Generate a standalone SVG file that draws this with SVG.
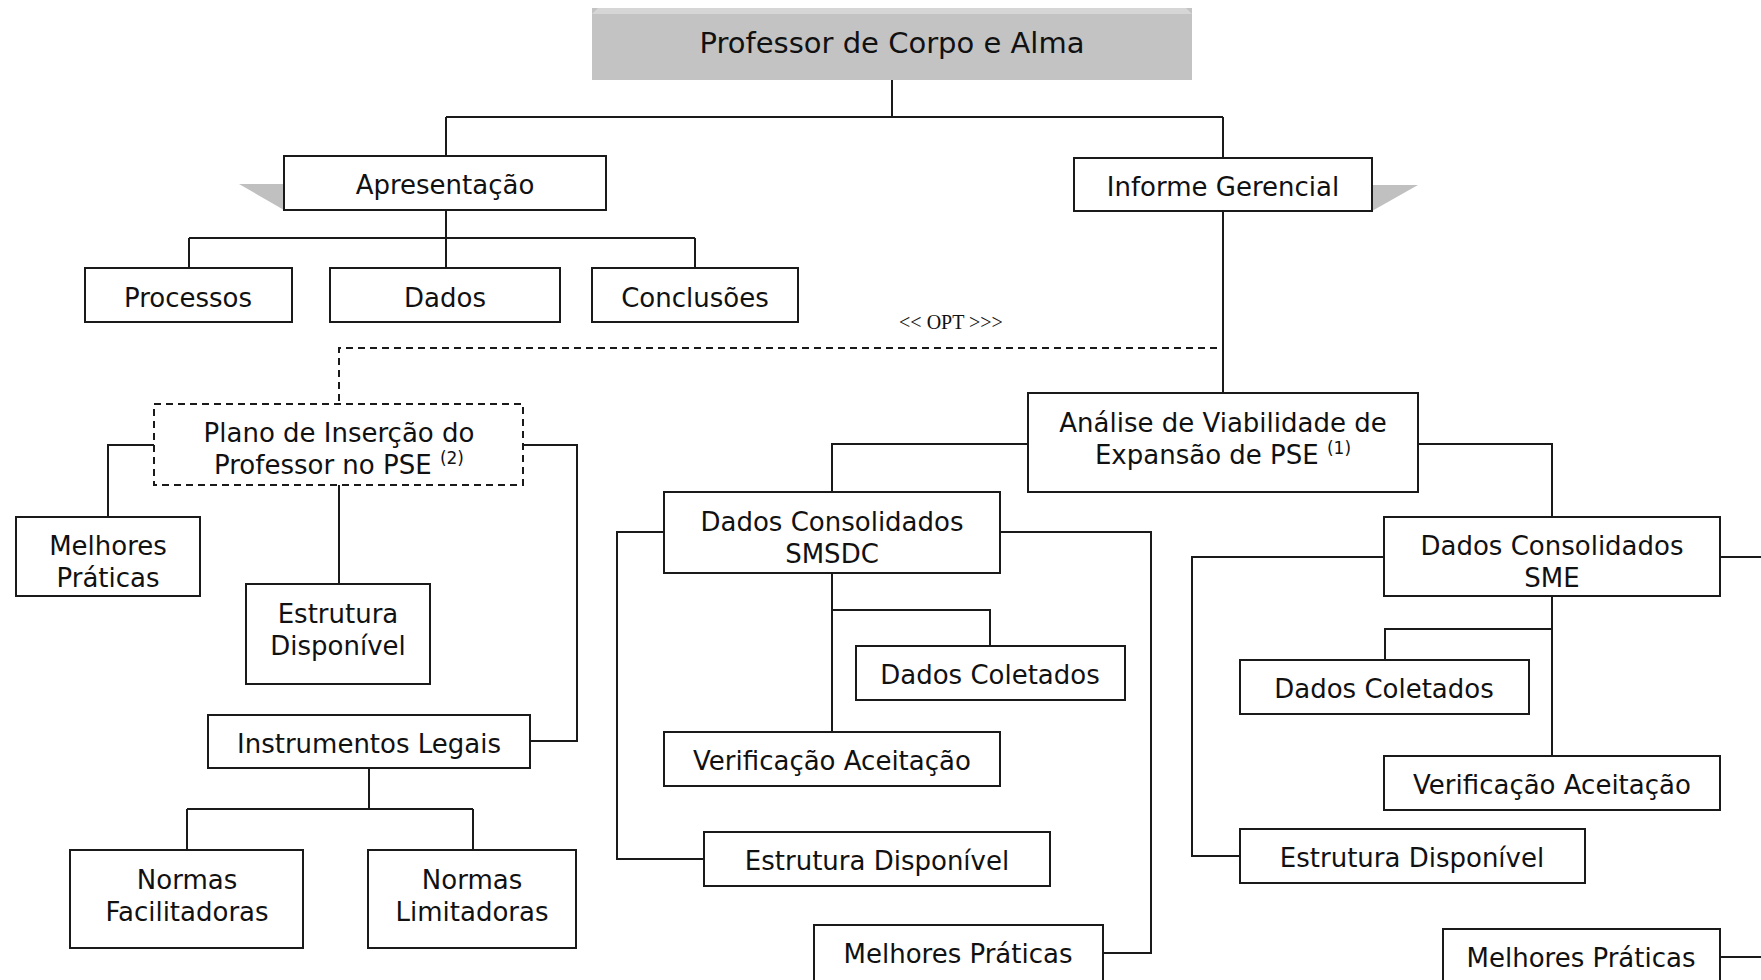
<svg xmlns="http://www.w3.org/2000/svg" width="1761" height="980" viewBox="0 0 1761 980">
<style>
.bx{fill:#fff;stroke:#1a1a1a;stroke-width:2}
.dbx{fill:#fff;stroke:#1a1a1a;stroke-width:2;stroke-dasharray:7,5}
.t{font-family:"DejaVu Sans","Verdana",sans-serif;font-size:26px;fill:#111;text-anchor:middle}
.sup{font-size:17px}
.ln{fill:none;stroke:#1a1a1a;stroke-width:2}
.dl{fill:none;stroke:#1a1a1a;stroke-width:2;stroke-dasharray:7,5}
.sh{fill:#c0c0c0}
</style>
<rect width="1761" height="980" fill="#fff"/>
<g id="connectors">
<path class="ln" d="M892,80 V117 M446,117 H1223 M446,117 V156 M1223,117 V158"/>
<path class="ln" d="M446,210 V238 M189,238 H695 M189,238 V268 M446,238 V268 M695,238 V268"/>
<path class="ln" d="M1223,211 V393"/>
<path class="dl" d="M1217,348 H339 V404"/>
<path class="ln" d="M154,445 H108 V517"/>
<path class="ln" d="M339,485 V584"/>
<path class="ln" d="M523,445 H577 V741 H530"/>
<path class="ln" d="M369,768 V809 M187,809 H473 M187,809 V850 M473,809 V850"/>
<path class="ln" d="M1028,444 H832 V492"/>
<path class="ln" d="M1418,444 H1552 V517"/>
<path class="ln" d="M664,532 H617 V859 H704"/>
<path class="ln" d="M1000,532 H1151 V953 H1103"/>
<path class="ln" d="M832,573 V732 M832,610 H990 V646"/>
<path class="ln" d="M1384,557 H1192 V856 H1240"/>
<path class="ln" d="M1720,557 H1761"/>
<path class="ln" d="M1552,596 V756 M1552,629 H1385 V660"/>
<path class="ln" d="M1720,957 H1761"/>
</g>
<g id="n-root">
<rect x="592" y="8" width="600" height="72" fill="#c3c3c3"/>
<polygon points="592,14 598,8 1186,8 1192,14" fill="#d6d6d6"/>
<text class="t" x="892" y="53" style="font-size:29px">Professor de Corpo e Alma</text>
</g>
<g id="n-apresentacao">
<polygon class="sh" points="239,184 284,184 284,210"/>
<rect class="bx" x="284" y="156" width="322" height="54"/>
<text class="t" x="445" y="194">Apresentação</text>
</g>
<g id="n-informe">
<polygon class="sh" points="1372,185 1418,185 1372,211"/>
<rect class="bx" x="1074" y="158" width="298" height="53"/>
<text class="t" x="1223" y="196">Informe Gerencial</text>
</g>
<g id="n-processos">
<rect class="bx" x="85" y="268" width="207" height="54"/>
<text class="t" x="188" y="307">Processos</text>
</g>
<g id="n-dados">
<rect class="bx" x="330" y="268" width="230" height="54"/>
<text class="t" x="445" y="307">Dados</text>
</g>
<g id="n-conclusoes">
<rect class="bx" x="592" y="268" width="206" height="54"/>
<text class="t" x="695" y="307">Conclusões</text>
</g>
<text x="951" y="329" style="font-family:'Liberation Serif',serif;font-size:20px;fill:#111;text-anchor:middle">&lt;&lt; OPT &gt;&gt;&gt;</text>
<g id="n-plano">
<rect class="dbx" x="154" y="404" width="369" height="81"/>
<text class="t" x="339" y="442">Plano de Inserção do</text>
<text class="t" x="339" y="474">Professor no PSE <tspan class="sup" dy="-10">(2)</tspan></text>
</g>
<g id="n-melhores1">
<rect class="bx" x="16" y="517" width="184" height="79"/>
<text class="t" x="108" y="555">Melhores</text>
<text class="t" x="108" y="587">Práticas</text>
</g>
<g id="n-estrutura1">
<rect class="bx" x="246" y="584" width="184" height="100"/>
<text class="t" x="338" y="623">Estrutura</text>
<text class="t" x="338" y="655">Disponível</text>
</g>
<g id="n-instrumentos">
<rect class="bx" x="208" y="715" width="322" height="53"/>
<text class="t" x="369" y="753">Instrumentos Legais</text>
</g>
<g id="n-normasf">
<rect class="bx" x="70" y="850" width="233" height="98"/>
<text class="t" x="187" y="889">Normas</text>
<text class="t" x="187" y="921">Facilitadoras</text>
</g>
<g id="n-normasl">
<rect class="bx" x="368" y="850" width="208" height="98"/>
<text class="t" x="472" y="889">Normas</text>
<text class="t" x="472" y="921">Limitadoras</text>
</g>
<g id="n-analise">
<rect class="bx" x="1028" y="393" width="390" height="99"/>
<text class="t" x="1223" y="432">Análise de Viabilidade de</text>
<text class="t" x="1223" y="464">Expansão de PSE <tspan class="sup" dy="-10">(1)</tspan></text>
</g>
<g id="n-smsdc">
<rect class="bx" x="664" y="492" width="336" height="81"/>
<text class="t" x="832" y="531">Dados Consolidados</text>
<text class="t" x="832" y="563">SMSDC</text>
</g>
<g id="n-coletados1">
<rect class="bx" x="856" y="646" width="269" height="54"/>
<text class="t" x="990" y="684">Dados Coletados</text>
</g>
<g id="n-verificacao1">
<rect class="bx" x="664" y="732" width="336" height="54"/>
<text class="t" x="832" y="770">Verificação Aceitação</text>
</g>
<g id="n-estrutura2">
<rect class="bx" x="704" y="832" width="346" height="54"/>
<text class="t" x="877" y="870">Estrutura Disponível</text>
</g>
<g id="n-melhores2">
<rect class="bx" x="814" y="925" width="289" height="80"/>
<text class="t" x="958" y="963">Melhores Práticas</text>
</g>
<g id="n-sme">
<rect class="bx" x="1384" y="517" width="336" height="79"/>
<text class="t" x="1552" y="555">Dados Consolidados</text>
<text class="t" x="1552" y="587">SME</text>
</g>
<g id="n-coletados2">
<rect class="bx" x="1240" y="660" width="289" height="54"/>
<text class="t" x="1384" y="698">Dados Coletados</text>
</g>
<g id="n-verificacao2">
<rect class="bx" x="1384" y="756" width="336" height="54"/>
<text class="t" x="1552" y="794">Verificação Aceitação</text>
</g>
<g id="n-estrutura3">
<rect class="bx" x="1240" y="829" width="345" height="54"/>
<text class="t" x="1412" y="867">Estrutura Disponível</text>
</g>
<g id="n-melhores3">
<rect class="bx" x="1443" y="929" width="277" height="80"/>
<text class="t" x="1581" y="967">Melhores Práticas</text>
</g>
</svg>
